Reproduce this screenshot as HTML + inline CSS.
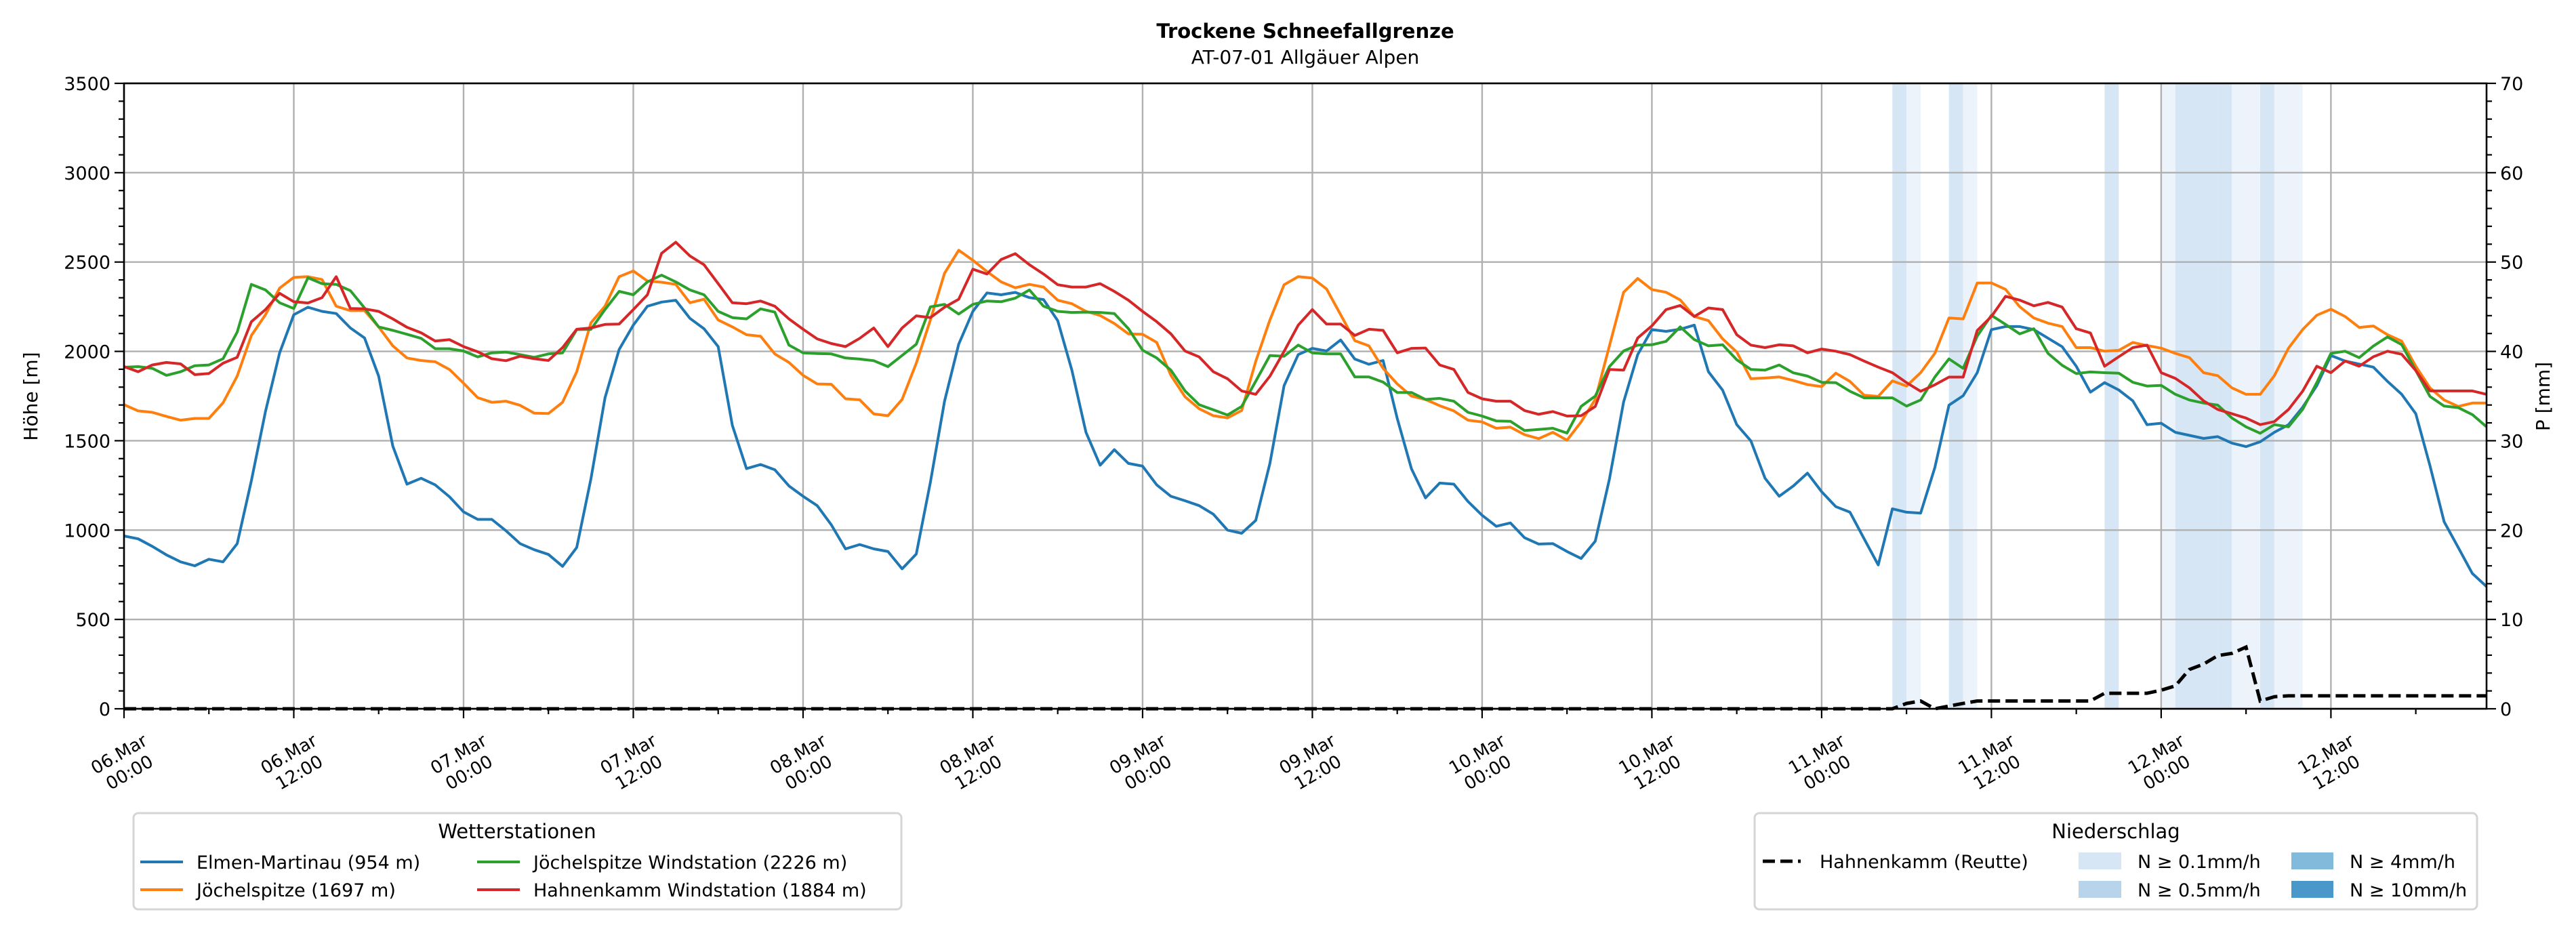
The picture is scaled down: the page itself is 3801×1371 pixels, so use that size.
<!DOCTYPE html>
<html><head><meta charset="utf-8"><title>Trockene Schneefallgrenze</title>
<style>
html,body{margin:0;padding:0;background:#fff;}
svg{display:block;font-family:"DejaVu Sans","Liberation Sans",sans-serif;}
</style></head>
<body>
<svg id="chart" xmlns="http://www.w3.org/2000/svg" width="3801" height="1371" viewBox="0 0 3801 1371">
  <rect x="0" y="0" width="3801" height="1371" fill="#fff"/>
  <text x="1926" y="56" text-anchor="middle" font-size="29" font-weight="bold">Trockene Schneefallgrenze</text>
  <text x="1926" y="94" text-anchor="middle" font-size="28">AT-07-01 Allgäuer Alpen</text>
  <g id="bands"></g>
  <g id="grid"></g>
  <g id="series"></g>
  <g id="axes"></g>
  <text x="0" y="0" transform="translate(55,585) rotate(-90)" text-anchor="middle" font-size="28">Höhe [m]</text>
  <text x="0" y="0" transform="translate(3762,585) rotate(-90)" text-anchor="middle" font-size="28">P [mm]</text>

  <g>
    <rect x="197" y="1200" width="1133" height="142" rx="7" fill="#fff" stroke="#d5d5d5" stroke-width="3"/>
    <text x="763" y="1237" text-anchor="middle" font-size="29">Wetterstationen</text>
    <line x1="207" y1="1272" x2="270" y2="1272" stroke="#1f77b4" stroke-width="4"/>
    <text x="290" y="1282" font-size="27">Elmen-Martinau (954 m)</text>
    <line x1="207" y1="1313" x2="270" y2="1313" stroke="#ff7f0e" stroke-width="4"/>
    <text x="290" y="1323" font-size="27">Jöchelspitze (1697 m)</text>
    <line x1="704" y1="1272" x2="767" y2="1272" stroke="#2ca02c" stroke-width="4"/>
    <text x="787" y="1282" font-size="27">Jöchelspitze Windstation (2226 m)</text>
    <line x1="704" y1="1313" x2="767" y2="1313" stroke="#d62728" stroke-width="4"/>
    <text x="787" y="1323" font-size="27">Hahnenkamm Windstation (1884 m)</text>
  </g>

  <g>
    <rect x="2589" y="1200" width="1066" height="142" rx="7" fill="#fff" stroke="#d5d5d5" stroke-width="3"/>
    <text x="3122" y="1237" text-anchor="middle" font-size="29">Niederschlag</text>
    <line x1="2601" y1="1271" x2="2657" y2="1271" stroke="#000" stroke-width="5" stroke-dasharray="18 8"/>
    <text x="2685" y="1281" font-size="27">Hahnenkamm (Reutte)</text>
    <rect x="3067" y="1258" width="63" height="25" fill="#d6e6f4"/>
    <text x="3154" y="1281" font-size="27">N ≥ 0.1mm/h</text>
    <rect x="3067" y="1300" width="63" height="25" fill="#b7d4ea"/>
    <text x="3154" y="1323" font-size="27">N ≥ 0.5mm/h</text>
    <rect x="3381" y="1258" width="62" height="25" fill="#82badb"/>
    <text x="3467" y="1281" font-size="27">N ≥ 4mm/h</text>
    <rect x="3381" y="1300" width="62" height="25" fill="#4a98c9"/>
    <text x="3467" y="1323" font-size="27">N ≥ 10mm/h</text>
  </g>
</svg>
<script>
// ---- data (hourly, starting 06.Mar 00:00) ----
const tickLabelsDay = ["06.Mar","06.Mar","07.Mar","07.Mar","08.Mar","08.Mar","09.Mar","09.Mar","10.Mar","10.Mar","11.Mar","11.Mar","12.Mar","12.Mar"];
const tickLabelsTime = ["00:00","12:00","00:00","12:00","00:00","12:00","00:00","12:00","00:00","12:00","00:00","12:00","00:00","12:00"];
const yTicks = [0,500,1000,1500,2000,2500,3000,3500];
const y2Ticks = [0,10,20,30,40,50,60,70];
const elmen = [967,951,909,861,822,800,837,822,924,1276,1663,1992,2205,2247,2224,2212,2131,2075,1862,1470,1257,1290,1253,1187,1102,1060,1060,996,924,890,864,797,903,1286,1740,2011,2147,2253,2276,2286,2185,2127,2027,1586,
1344,1367,1338,1247,1189,1137,1029,895,919,895,880,783,866,1267,1721,2040,2224,2327,2317,2330,2301,2290,2172,1895,1547,1363,1450,1373,1358,1253,1189,1164,1137,1089,1000,982,1054,1373,1808,1982,2017,
2002,2064,1957,1928,1949,1625,1344,1180,1263,1257,1160,1083,1021,1040,957,922,924,880,841,938,1286,1717,1982,2122,2112,2124,2147,1886,1783,1590,1499,1290,1189,1247,1319,
1215,1131,1100,952,805,1119,1100,1095,1349,1699,1752,1881,2122,2139,2139,2122,2074,2026,1917,1772,1825,1784,1723,1590,1598,1547,1530,1513,1523,1487,1467,1494,1547,1590,1687,1808,1977,1946,1929,1912,1832,1760,1651,1361,1047,902,757,684];
const joechelspitze = [1702,1667,1659,1636,1615,1625,1625,1712,1862,2089,2205,2354,2414,2418,2402,2253,2228,2228,2137,2031,1963,1949,1942,1899,1822,1741,1715,1721,1698,1654,1652,1715,1886,2160,2253,2418,2450,2394,2387,2375,2272,2292,2176,2137,
2093,2085,1986,1938,1866,1818,1816,1735,1729,1650,1640,1731,1934,2176,2437,2566,2510,2447,2389,2356,2375,2360,2286,2267,2224,2201,2156,2098,2096,2050,1866,1746,1679,1640,1628,1669,1944,2176,2373,2418,2410,
2350,2205,2060,2031,1905,1818,1750,1731,1696,1667,1615,1605,1570,1576,1534,1512,1547,1503,1605,1731,2031,2331,2408,2346,2331,2288,2195,2172,2070,1996,1847,1851,1857,1837,1814,
1803,1878,1832,1755,1748,1835,1806,1881,1989,2187,2182,2383,2383,2347,2250,2187,2158,2139,2021,2021,2001,2006,2050,2033,2018,1989,1965,1881,1864,1796,1760,1760,1864,2018,2122,2202,2236,2195,2134,2142,2093,2057,1917,1796,1728,1692,1711,1711];
const joechelWind = [1911,1915,1905,1866,1886,1920,1924,1959,2108,2375,2344,2272,2240,2412,2379,2375,2340,2243,2137,2118,2096,2073,2015,2015,2002,1969,1992,1996,1982,1967,1986,1992,2122,2123,2234,2336,2317,2389,2427,2389,2344,2317,2224,2189,
2182,2238,2220,2035,1992,1988,1986,1963,1957,1948,1915,1977,2040,2249,2263,2209,2263,2282,2278,2298,2344,2253,2224,2218,2220,2218,2212,2127,2007,1963,1895,1779,1702,1673,1644,1692,1833,1977,1973,2035,1992,
1986,1986,1857,1857,1828,1770,1770,1731,1737,1721,1659,1638,1611,1609,1557,1563,1570,1543,1692,1750,1915,2002,2035,2037,2056,2137,2066,2031,2037,1953,1899,1895,1924,1880,1862,
1827,1825,1777,1740,1740,1740,1694,1728,1856,1958,1905,2086,2202,2151,2098,2127,1989,1922,1876,1885,1881,1878,1827,1806,1810,1760,1728,1711,1699,1627,1578,1542,1590,1578,1675,1825,1989,2001,1965,2030,2081,2038,1893,1748,1694,1685,1646,1578];
const hahnenkammWind = [1915,1886,1924,1938,1930,1870,1876,1934,1967,2166,2234,2325,2278,2271,2301,2418,2240,2238,2224,2182,2135,2104,2058,2066,2027,1998,1959,1948,1973,1959,1949,2021,2124,2131,2151,2153,2234,2317,2549,2611,2534,2485,2379,2272,
2267,2282,2253,2182,2124,2070,2044,2027,2073,2131,2027,2131,2199,2189,2247,2292,2460,2433,2514,2547,2485,2433,2373,2360,2360,2379,2336,2286,2224,2166,2098,2002,1969,1886,1847,1779,1760,1861,2000,2147,2234,
2153,2153,2089,2124,2118,1992,2017,2019,1924,1899,1770,1735,1721,1721,1669,1648,1663,1638,1640,1692,1899,1895,2075,2143,2234,2257,2195,2243,2234,2093,2035,2021,2037,2031,1992,
2013,2001,1982,1946,1912,1881,1825,1777,1813,1856,1856,2117,2195,2308,2287,2255,2274,2248,2127,2103,1917,1970,2021,2035,1881,1849,1796,1723,1675,1651,1627,1590,1607,1675,1777,1917,1881,1946,1917,1970,2001,1984,1893,1779,1779,1779,1779,1760];
const precipSum = [0,0,0,0,0,0,0,0,0,0,0,0,0,0,0,0,0,0,0,0,0,0,0,0,0,0,0,0,0,0,0,0,0,0,0,0,0,0,0,0,0,0,0,0,0,0,0,0,0,0,0,0,0,0,0,0,0,0,0,0,0,0,0,0,0,0,0,0,0,0,0,0,0,0,0,0,0,0,0,0,0,0,0,0,0,0,0,0,0,0,0,0,0,0,0,0,0,0,0,0,0,0,0,0,0,0,0,0,0,0,0,0,0,0,0,0,0,0,0,0,0,0,0,0,0,0,
0.6,0.87,0,0.3,0.6,0.87,0.87,0.87,0.87,0.87,0.87,0.87,0.87,0.87,1.74,1.74,1.74,1.74,2.08,2.56,4.4,5.0,5.95,6.2,6.9,0.87,1.35,1.45,1.45,1.45,1.45,1.45,1.45,1.45,1.45,1.45,1.45,1.45,1.45,1.45,1.45,1.45];
const bandHours = [125,126,129,130,140,144,145,146,147,148,149,150,151,152,153];
const bandLevel = [2,1,2,1,2,1,2,2,2,2,1,1,2,1,1];

// ---- axes ----
const L=183,R=3669,T=123,B=1046,HMAX=167;
function xs(h){return L+h*(R-L)/HMAX;}
function ys(v){return B-v/3500*(B-T);}
function ys2(p){return B-p/70*(B-T);}
const NS="http://www.w3.org/2000/svg";
function mk(tag,attrs,parent){const e=document.createElementNS(NS,tag);for(const k in attrs)e.setAttribute(k,attrs[k]);parent.appendChild(e);return e;}
const gB=document.getElementById('bands'),gG=document.getElementById('grid'),gS=document.getElementById('series'),gA=document.getElementById('axes');

bandHours.forEach((h,i)=>{
  const r=mk('rect',{x:xs(h),y:T,width:xs(h+1)-xs(h),height:B-T,fill:bandLevel[i]===2?'#d6e6f4':'#edf3fa'},gB);
  
  
});

yTicks.forEach(v=>{
  const g=mk('line',{x1:L,x2:R,y1:ys(v),y2:ys(v),stroke:'#b0b0b0','stroke-width':2.4},gG);
  
  
});
tickLabelsDay.forEach((d,i)=>{
  const x=xs(i*12);
  const g=mk('line',{x1:x,x2:x,y1:T,y2:B,stroke:'#b0b0b0','stroke-width':2.4},gG);
  
  
});

function path(arr,color,name){
  let d='';arr.forEach((v,i)=>{d+=(i?'L':'M')+xs(i).toFixed(1)+','+ys(v).toFixed(1);});
  const p=mk('path',{d:d,fill:'none',stroke:color,'stroke-width':4,'stroke-linejoin':'round'},gS);
  
  
}
path(elmen,'#1f77b4','line-elmen-martinau');
path(joechelspitze,'#ff7f0e','line-joechelspitze');
path(joechelWind,'#2ca02c','line-joechelspitze-windstation');
path(hahnenkammWind,'#d62728','line-hahnenkamm-windstation');
{
  let d='';precipSum.forEach((v,i)=>{d+=(i?'L':'M')+xs(i).toFixed(1)+','+ys2(v).toFixed(1);});
  const p=mk('path',{d:d,fill:'none',stroke:'#000','stroke-width':5,'stroke-dasharray':'18 8'},gS);
  
  
}

// spines
const frame=mk('rect',{x:L,y:T,width:R-L,height:B-T,fill:'none',stroke:'#000','stroke-width':2.6},gA);



// left ticks
for(let v=0;v<=3500;v+=100){
  const major=v%500===0;
  const t=mk('line',{x1:L,x2:L-(major?14:8),y1:ys(v),y2:ys(v),stroke:'#000','stroke-width':2.2},gA);
  
  
}
yTicks.forEach(v=>{
  const t=mk('text',{x:L-20,y:ys(v)+10,'text-anchor':'end','font-size':27},gA);
  t.textContent=v;
  
  
});
// right ticks
for(let p=0;p<=70;p+=2){
  const major=p%10===0;
  const t=mk('line',{x1:R,x2:R+(major?14:8),y1:ys2(p),y2:ys2(p),stroke:'#000','stroke-width':2.2},gA);
  
  
}
y2Ticks.forEach(p=>{
  const t=mk('text',{x:R+20,y:ys2(p)+10,'text-anchor':'start','font-size':27},gA);
  t.textContent=p;
  
  
});
// x ticks
for(let h=0;h<=HMAX;h+=6){
  const major=h%12===0;
  const t=mk('line',{x1:xs(h),x2:xs(h),y1:B,y2:B+(major?14:8),stroke:'#000','stroke-width':2.2},gA);
  
  
}
tickLabelsDay.forEach((d,i)=>{
  const x=xs(i*12),y0=1126;
  const t=mk('text',{x:x,y:y0,'text-anchor':'middle','font-size':26,transform:`rotate(-30 ${x} ${y0})`},gA);
  
  
  const a=mk('tspan',{x:x,dy:-6},t);a.textContent=d;
  const b=mk('tspan',{x:x,dy:31},t);b.textContent=tickLabelsTime[i];
});
</script>
</body></html>
